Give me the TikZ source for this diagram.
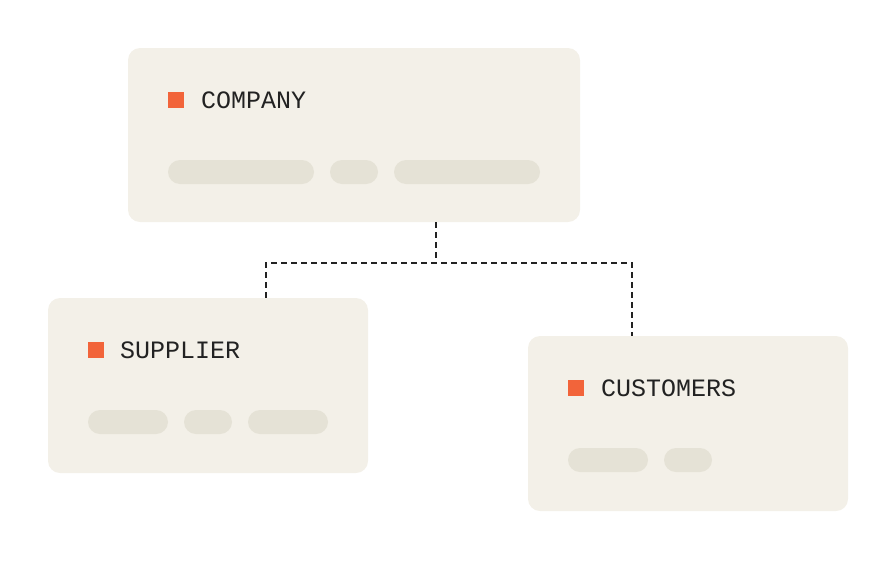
\documentclass[tikz,border=0pt]{standalone}
\usepackage{fontspec}
\newfontfamily\labelfont{Liberation Mono}
\usetikzlibrary{positioning}
\definecolor{cardbg}{HTML}{F3F0E8}
\definecolor{pillbg}{HTML}{E5E2D6}
\definecolor{tag}{HTML}{F2643A}
\definecolor{ink}{HTML}{222222}

\begin{document}
\begin{tikzpicture}[x=1pt,y=-1pt,
    card/.style={fill=cardbg,rounded corners=12pt,inner sep=0pt},
    pill/.style={fill=pillbg,rounded corners=12pt,inner sep=0pt,minimum height=24pt},
    marker/.style={fill=tag,inner sep=0pt,minimum size=16pt},
    title/.style={anchor=base west,inner sep=0pt,font=\labelfont\fontsize{25}{29}\selectfont,text=ink},
    link/.style={draw=ink,line width=1.4pt,dash pattern=on 6pt off 4pt}]
    \useasboundingbox (0,0) rectangle (896,560);
    % cards
    \node[card,minimum width=452pt,minimum height=174pt] (company) at (354,135) {};
    \node[card,minimum width=320pt,minimum height=175pt] (supplier) at (208,385.5) {};
    \node[card,minimum width=320pt,minimum height=175pt] (customers) at (688,423.5) {};
    % titles
    \node[marker] (m1) at (176,100) {};
    \node[title] (t1) at (201,108) {COMPANY};
    \node[marker] (m2) at (96,350) {};
    \node[title] (t2) at (120,358) {SUPPLIER};
    \node[marker] (m3) at (576,388) {};
    \node[title] (t3) at (601,396) {CUSTOMERS};
    % placeholder bars
    \node[pill,minimum width=146pt] (p1) at (241,172) {};
    \node[pill,minimum width=48pt] (p2) at (354,172) {};
    \node[pill,minimum width=146pt] (p3) at (467,172) {};
    \node[pill,minimum width=80pt] (p4) at (128,422) {};
    \node[pill,minimum width=48pt] (p5) at (208,422) {};
    \node[pill,minimum width=80pt] (p6) at (288,422) {};
    \node[pill,minimum width=80pt] (p7) at (608,460) {};
    \node[pill,minimum width=48pt] (p8) at (688,460) {};
    % connectors
    \coordinate (split) at (436,263);
    \coordinate (lj) at (266,263);
    \coordinate (rj) at (632,263);
    \draw[link] (company.south -| split) -- (split);
    \draw[link] (supplier.north -| lj) -- (lj) -- (rj) -- (customers.north -| rj);
\end{tikzpicture}
\end{document}
